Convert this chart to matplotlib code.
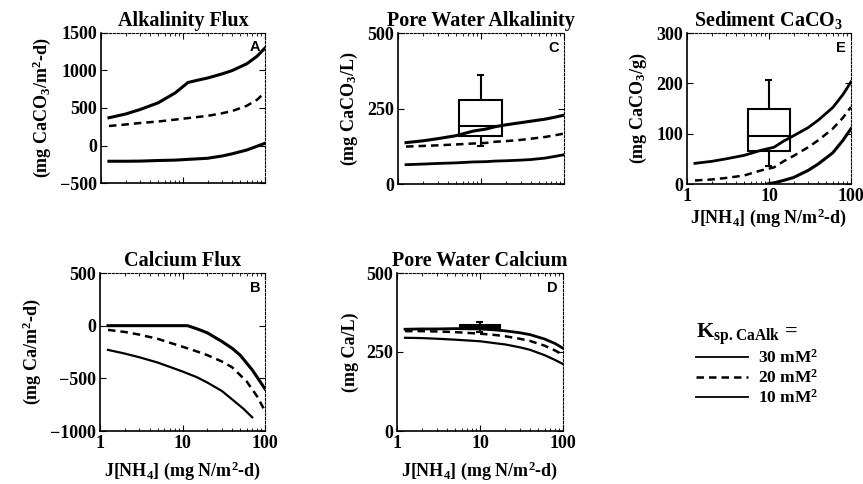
import matplotlib
matplotlib.use("Agg")
import matplotlib.pyplot as plt
from matplotlib.patches import Rectangle

plt.rcParams['font.family'] = ['Liberation Serif', 'DejaVu Serif']
plt.rcParams['font.weight'] = 'bold'
plt.rcParams['axes.titleweight'] = 'bold'
plt.rcParams['axes.labelweight'] = 'bold'
plt.rcParams['mathtext.default'] = 'regular'

# J[NH4] values (mg N/m2-d)
x_std = [1.25, 2, 3, 5, 8, 11.5, 15, 20, 30, 40, 60, 80, 100]

# A - alkalinity flux
alk_flux_30 = [370, 420, 480, 570, 700, 840, 870, 900, 955, 1000, 1090, 1190, 1300]
alk_flux_20 = [260, 280, 300, 320, 345, 365, 380, 395, 430, 460, 530, 610, 710]
alk_flux_10 = [-210, -210, -208, -200, -195, -185, -178, -170, -140, -110, -60, -10, 30]

# C - pore water alkalinity
pw_alk_30 = [137, 143, 150, 160, 175, 182, 190, 196, 203, 208, 215, 222, 228]
pw_alk_20 = [124, 126, 128, 131, 134, 136, 140, 142, 146, 150, 156, 162, 167]
pw_alk_10 = [64, 66, 68, 70, 73, 74, 76, 77, 79, 81, 86, 92, 97]
pw_alk_box = dict(lo=5.5, hi=17.7, mid=10, q1=159, med=191, q3=278, wlo=126, whi=361)

# E - sediment CaCO3
sed_30 = [41, 45, 50, 57, 67, 73, 85, 96, 112, 127, 152, 178, 203]
sed_20 = [7, 9, 12, 17, 27, 33, 45, 56, 73, 87, 110, 132, 153]
x_sed_10 = [9.5, 12, 15, 20, 30, 40, 60, 80, 100]
sed_10 = [0, 3, 7, 13, 27, 40, 62, 87, 110]
sed_box = dict(lo=5.6, hi=18.2, mid=10, q1=65, med=95, q3=150, wlo=35, whi=207)

# B - calcium flux
x_ca30 = [1.25, 5, 11.5, 15, 20, 30, 40, 50, 70, 100]
ca_flux_30 = [0, 0, 0, -30, -68, -150, -215, -280, -420, -600]
x_ca20 = [1.25, 2, 3, 5, 10, 15, 20, 30, 40, 60, 80, 100]
ca_flux_20 = [-40, -60, -85, -125, -200, -245, -280, -340, -395, -530, -670, -810]
x_ca10 = [1.25, 2, 3, 5, 10, 15, 20, 30, 40, 55, 70]
ca_flux_10 = [-230, -265, -300, -350, -435, -490, -540, -620, -700, -790, -870]

# D - pore water calcium
x_pwca = [1.25, 2, 3, 5, 10, 15, 20, 30, 40, 60, 80, 100]
pw_ca_30 = [322, 323, 323, 324, 323, 320, 317, 311, 305, 291, 277, 262]
pw_ca_20 = [316, 316, 315, 313, 308, 304, 300, 292, 285, 270, 255, 241]
pw_ca_10 = [295, 294, 292, 289, 284, 278, 274, 265, 257, 240, 225, 212]
pw_ca_box = dict(lo=5.8, hi=17.5, mid=10, q1=323, med=330, q3=337, wlo=312, whi=345)

xlab = 'J[NH$_4$] (mg N/m$^2$-d)'

fig = plt.figure(figsize=(8.63, 4.84), dpi=100)
W, H = 863, 484


def make_ax(l, t, r, b):
    return fig.add_axes([l / W, 1 - b / H, (r - l) / W, (b - t) / H])


axA = make_ax(101, 33, 265, 183)
axC = make_ax(398, 33, 564, 184)
axE = make_ax(687, 33, 851, 184)
axB = make_ax(100, 273, 265, 431)
axD = make_ax(397, 273, 563, 431)


def style(ax, title, ylabel, ylim, yticks, letter, show_x, xpad=5):
    ax.set_xscale('log')
    ax.set_xlim(1, 100)
    ax.set_ylim(*ylim)
    ax.set_yticks(yticks)
    ax.set_xticks([1, 10, 100])
    if show_x:
        ax.set_xticklabels(['1', '10', '100'])
        ax.set_xlabel(xlab, fontsize=13, labelpad=xpad)
    else:
        ax.set_xticklabels([])
    ax.tick_params(which='both', direction='in', top=True, right=True, labelsize=13)
    ax.tick_params(which='major', length=4, pad=3)
    ax.tick_params(which='minor', length=2)
    ax.set_title(title, fontsize=14.5, pad=5)
    ax.set_ylabel(ylabel, fontsize=13, labelpad=5)
    for s in ['left', 'bottom']:
        ax.spines[s].set_linewidth(1.2)
    for s in ['top', 'right']:
        ax.spines[s].set_linewidth(0.8)
        ax.spines[s].set_linestyle((0, (2, 1.5)))
    ax.text(0.97, 0.95, letter, transform=ax.transAxes, ha='right', va='top',
            fontsize=10.5, fontweight='bold', family='Liberation Sans')


def draw_box(ax, bx, filled=False):
    fc = 'black' if filled else 'white'
    ax.vlines(bx['mid'], bx['q3'], bx['whi'], color='black', lw=1.5, zorder=4)
    ax.vlines(bx['mid'], bx['wlo'], bx['q1'], color='black', lw=1.5, zorder=4)
    ax.hlines([bx['whi'], bx['wlo']], bx['mid'] * 0.9, bx['mid'] * 1.1, color='black', lw=1.5, zorder=4)
    ax.add_patch(Rectangle((bx['lo'], bx['q1']), bx['hi'] - bx['lo'], bx['q3'] - bx['q1'],
                           facecolor=fc, edgecolor='black', lw=1.5, zorder=3))
    ax.hlines(bx['med'], bx['lo'], bx['hi'], color='black', lw=1.5, zorder=4)


# A
l30, = axA.plot(x_std, alk_flux_30, 'k-', lw=2.2)
l20, = axA.plot(x_std, alk_flux_20, 'k--', lw=1.8, dashes=(3, 2))
l10, = axA.plot(x_std, alk_flux_10, 'k-', lw=2.2)
style(axA, 'Alkalinity Flux', '(mg CaCO$_3$/m$^2$-d)', (-500, 1500),
      [-500, 0, 500, 1000, 1500], 'A', False)

# C
draw_box(axC, pw_alk_box)
axC.plot(x_std, pw_alk_30, 'k-', lw=2.2, zorder=5)
axC.plot(x_std, pw_alk_20, 'k--', lw=1.8, dashes=(3, 2), zorder=5)
axC.plot(x_std, pw_alk_10, 'k-', lw=2.0, zorder=5)
style(axC, 'Pore Water Alkalinity', '(mg CaCO$_3$/L)', (0, 500), [0, 250, 500], 'C', False)

# E
draw_box(axE, sed_box)
axE.plot(x_std, sed_30, 'k-', lw=2.0, zorder=5)
axE.plot(x_std, sed_20, 'k--', lw=1.8, dashes=(3, 2), zorder=5)
axE.plot(x_sed_10, sed_10, 'k-', lw=2.2, zorder=5)
style(axE, 'Sediment CaCO$_3$', '(mg CaCO$_3$/g)', (0, 300), [0, 100, 200, 300], 'E', True, xpad=1)

# B
axB.plot(x_ca30, ca_flux_30, 'k-', lw=2.2)
axB.plot(x_ca20, ca_flux_20, 'k--', lw=1.8, dashes=(3, 2))
axB.plot(x_ca10, ca_flux_10, 'k-', lw=1.6)
style(axB, 'Calcium Flux', '(mg Ca/m$^2$-d)', (-1000, 500), [-1000, -500, 0, 500], 'B', True)

# D
draw_box(axD, pw_ca_box, filled=True)
axD.plot(x_pwca, pw_ca_30, 'k-', lw=2.0, zorder=5)
axD.plot(x_pwca, pw_ca_20, 'k--', lw=1.8, dashes=(3, 2), zorder=5)
axD.plot(x_pwca, pw_ca_10, 'k-', lw=1.6, zorder=5)
style(axD, 'Pore Water Calcium', '(mg Ca/L)', (0, 500), [0, 250, 500], 'D', True)

leg = fig.legend([l30, l20, l10], ['30 mM$^2$', '20 mM$^2$', '10 mM$^2$'],
                 loc='upper left', bbox_to_anchor=(680 / W, 1 - 306 / H),
                 frameon=False, fontsize=12.5, handlelength=3.0, labelspacing=0.12,
                 handletextpad=0.6, title='K$_{sp.CaAlk}$ =', title_fontsize=16,
                 alignment='left')
leg.get_lines()[0].set_linewidth(1.3)
leg.get_lines()[2].set_linewidth(1.3)

fig.savefig('out.png', dpi=100)
